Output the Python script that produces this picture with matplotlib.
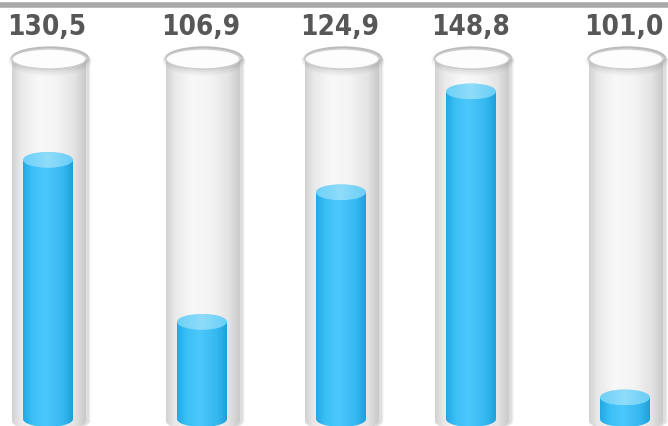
import numpy as np
import matplotlib
matplotlib.use("Agg")
import matplotlib.pyplot as plt
from matplotlib.path import Path
from matplotlib.patches import PathPatch, Ellipse
from matplotlib.colors import LinearSegmentedColormap

# data
values = [130.5, 106.9, 124.9, 148.8, 101.0]
fill_levels = [0.72, 0.27, 0.63, 0.91, 0.06]   # share of each tube that is filled
labels = [f"{v:.1f}".replace(".", ",") for v in values]

W, H = 668, 426
centers = [49, 203, 342, 472, 626]
glass_hw, fill_hw = 37, 25
tube_top, tube_bottom = 59, 421
ell_glass, ell_fill = 10, 8

glass_cmap = LinearSegmentedColormap.from_list(
    "glass", [(0, "#d2d2d2"), (0.12, "#e9e9e9"), (0.35, "#f8f8f8"),
              (0.6, "#f4f4f4"), (0.85, "#e3e3e3"), (1, "#c9c9c9")])
fill_cmap = LinearSegmentedColormap.from_list(
    "fill", [(0, "#22a9e4"), (0.2, "#3cc0f6"), (0.45, "#4cc8fb"),
             (0.8, "#35b8f0"), (1, "#1f9fd8")])
cap_cmap = LinearSegmentedColormap.from_list(
    "cap", [(0, "#6fd0f8"), (0.5, "#8fdcfa"), (1, "#6acdf6")])
grad = np.linspace(0, 1, 256).reshape(1, -1)


def body_path(cx, hw, top, bottom, eh):
    t = np.linspace(0, np.pi, 40)
    arc_x = cx + hw * np.cos(t)
    arc_y = bottom + eh * np.sin(t)
    xs = np.concatenate([[cx - hw, cx + hw], arc_x])
    ys = np.concatenate([[top, top], arc_y])
    verts = np.column_stack([xs, ys])
    verts = np.vstack([verts, verts[:1]])
    codes = [Path.MOVETO] + [Path.LINETO] * (len(verts) - 2) + [Path.CLOSEPOLY]
    return Path(verts, codes)


def gradient_cylinder(ax, cx, hw, top, bottom, eh, cmap, z):
    patch = PathPatch(body_path(cx, hw, top, bottom, eh), fc="none", ec="none")
    ax.add_patch(patch)
    im = ax.imshow(grad, cmap=cmap, extent=[cx - hw, cx + hw, bottom + eh, top],
                   aspect="auto", zorder=z, interpolation="bicubic")
    im.set_clip_path(patch)


fig = plt.figure(figsize=(W / 100, H / 100), dpi=100)
ax = fig.add_axes([0, 0, 1, 1])
ax.set_xlim(0, W)
ax.set_ylim(H, 0)
ax.axis("off")

ax.axhline(4.5, color="#a8a8a8", linewidth=4, zorder=1)

for cx, frac, lab in zip(centers, fill_levels, labels):
    # shadow on the right of the glass
    for i, a in enumerate([0.12, 0.08, 0.05]):
        ax.add_patch(PathPatch(body_path(cx + 2 + i, glass_hw + 1, tube_top, tube_bottom, ell_glass),
                               fc="#777777", ec="none", alpha=a, zorder=2))
    gradient_cylinder(ax, cx, glass_hw, tube_top, tube_bottom, ell_glass, glass_cmap, 3)
    # glass rim / opening with soft shadow
    for i, a in enumerate([0.18, 0.12, 0.07, 0.04]):
        ax.add_patch(Ellipse((cx + 1, tube_top - 1 + i), 2 * glass_hw + 1 + 2 * i, 2 * ell_glass + 1 + 2 * i,
                             fc="none", ec="#444444", lw=1.6, alpha=a, zorder=6))
    ax.add_patch(Ellipse((cx, tube_top), 2 * glass_hw, 2 * ell_glass,
                         fc="#fdfdfd", ec="#cccccc", lw=1.0, zorder=7))

    # liquid
    fbottom = tube_bottom - 2
    ftop = fbottom - frac * (fbottom - tube_top)
    gradient_cylinder(ax, cx - 1, fill_hw, ftop, fbottom, ell_fill, fill_cmap, 4)
    cap = Ellipse((cx - 1, ftop), 2 * fill_hw, 2 * ell_fill, fc="none", ec="none")
    ax.add_patch(cap)
    im = ax.imshow(grad, cmap=cap_cmap, extent=[cx - 1 - fill_hw, cx - 1 + fill_hw,
                                                 ftop + ell_fill, ftop - ell_fill],
                   aspect="auto", zorder=5, interpolation="bicubic")
    im.set_clip_path(cap)

    ax.text(cx - 2, 27, lab, ha="center", va="center", fontsize=20, fontweight="bold",
            fontstretch="condensed",
            family=["DejaVu Sans Condensed", "Liberation Sans Narrow", "DejaVu Sans"],
            color="#575757", zorder=8)

fig.savefig("out.png", dpi=100)
